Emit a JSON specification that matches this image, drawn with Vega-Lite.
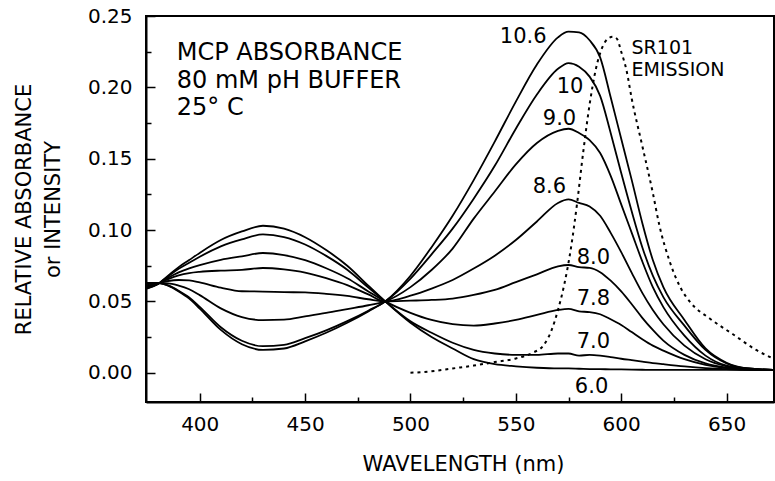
{
"$schema":"https://vega.github.io/schema/vega-lite/v6.json",
"width":628,"height":386,
"autosize":{"type":"none"},
"padding":{"left":146,"top":16,"right":1,"bottom":79},
"config":{"view":{"stroke":"black","strokeWidth":2},"font":"DejaVu Sans"},
"datasets":{
"abs":[
{"p":"6.0","w":375,"a":0.059},{"p":"6.0","w":380,"a":0.062},{"p":"6.0","w":385,"a":0.068},{"p":"6.0","w":390,"a":0.074},{"p":"6.0","w":395,"a":0.079},{"p":"6.0","w":400,"a":0.084},{"p":"6.0","w":410,"a":0.093},{"p":"6.0","w":420,"a":0.099},{"p":"6.0","w":430,"a":0.103},{"p":"6.0","w":440,"a":0.101},{"p":"6.0","w":450,"a":0.095},{"p":"6.0","w":460,"a":0.086},{"p":"6.0","w":470,"a":0.075},{"p":"6.0","w":480,"a":0.061},
{"p":"6.0","w":488,"a":0.050},{"p":"6.0","w":500,"a":0.035},{"p":"6.0","w":510,"a":0.025},{"p":"6.0","w":520,"a":0.017},{"p":"6.0","w":530,"a":0.0095},{"p":"6.0","w":540,"a":0.006},{"p":"6.0","w":550,"a":0.0045},{"p":"6.0","w":560,"a":0.0035},{"p":"6.0","w":570,"a":0.003},{"p":"6.0","w":575,"a":0.003},{"p":"6.0","w":580,"a":0.0028},{"p":"6.0","w":585,"a":0.0026},{"p":"6.0","w":590,"a":0.0025},{"p":"6.0","w":595,"a":0.0024},{"p":"6.0","w":600,"a":0.0023},{"p":"6.0","w":605,"a":0.0022},{"p":"6.0","w":610,"a":0.0021},{"p":"6.0","w":615,"a":0.002},{"p":"6.0","w":620,"a":0.002},{"p":"6.0","w":630,"a":0.002},{"p":"6.0","w":640,"a":0.002},{"p":"6.0","w":650,"a":0.002},{"p":"6.0","w":660,"a":0.002},{"p":"6.0","w":672,"a":0.002},
{"p":"7.0","w":375,"a":0.0593},{"p":"7.0","w":380,"a":0.0621},{"p":"7.0","w":385,"a":0.0675},{"p":"7.0","w":390,"a":0.0728},{"p":"7.0","w":395,"a":0.0771},{"p":"7.0","w":400,"a":0.0813},{"p":"7.0","w":410,"a":0.0886},{"p":"7.0","w":420,"a":0.0935},{"p":"7.0","w":430,"a":0.0969},{"p":"7.0","w":440,"a":0.0951},{"p":"7.0","w":450,"a":0.0899},{"p":"7.0","w":460,"a":0.0819},{"p":"7.0","w":470,"a":0.0722},{"p":"7.0","w":480,"a":0.0597},
{"p":"7.0","w":488,"a":0.050},{"p":"7.0","w":500,"a":0.036},{"p":"7.0","w":510,"a":0.028},{"p":"7.0","w":520,"a":0.021},{"p":"7.0","w":530,"a":0.016},{"p":"7.0","w":540,"a":0.0135},{"p":"7.0","w":550,"a":0.0125},{"p":"7.0","w":560,"a":0.0125},{"p":"7.0","w":570,"a":0.0135},{"p":"7.0","w":575,"a":0.0135},{"p":"7.0","w":580,"a":0.012},{"p":"7.0","w":585,"a":0.0125},{"p":"7.0","w":590,"a":0.012},{"p":"7.0","w":595,"a":0.011},{"p":"7.0","w":600,"a":0.0098},{"p":"7.0","w":605,"a":0.0088},{"p":"7.0","w":610,"a":0.0078},{"p":"7.0","w":615,"a":0.0068},{"p":"7.0","w":620,"a":0.006},{"p":"7.0","w":630,"a":0.0045},{"p":"7.0","w":640,"a":0.0033},{"p":"7.0","w":650,"a":0.0025},{"p":"7.0","w":660,"a":0.002},{"p":"7.0","w":672,"a":0.002},
{"p":"7.8","w":375,"a":0.0599},{"p":"7.8","w":380,"a":0.0622},{"p":"7.8","w":385,"a":0.0665},{"p":"7.8","w":390,"a":0.0703},{"p":"7.8","w":395,"a":0.0731},{"p":"7.8","w":400,"a":0.0754},{"p":"7.8","w":410,"a":0.0791},{"p":"7.8","w":420,"a":0.0816},{"p":"7.8","w":430,"a":0.0839},{"p":"7.8","w":440,"a":0.0825},{"p":"7.8","w":450,"a":0.0789},{"p":"7.8","w":460,"a":0.0732},{"p":"7.8","w":470,"a":0.0662},{"p":"7.8","w":480,"a":0.057},
{"p":"7.8","w":488,"a":0.050},{"p":"7.8","w":500,"a":0.042},{"p":"7.8","w":510,"a":0.037},{"p":"7.8","w":520,"a":0.034},{"p":"7.8","w":530,"a":0.033},{"p":"7.8","w":540,"a":0.0345},{"p":"7.8","w":550,"a":0.037},{"p":"7.8","w":560,"a":0.0405},{"p":"7.8","w":570,"a":0.044},{"p":"7.8","w":575,"a":0.0448},{"p":"7.8","w":580,"a":0.043},{"p":"7.8","w":585,"a":0.0425},{"p":"7.8","w":590,"a":0.041},{"p":"7.8","w":595,"a":0.0375},{"p":"7.8","w":600,"a":0.0335},{"p":"7.8","w":605,"a":0.0285},{"p":"7.8","w":610,"a":0.0235},{"p":"7.8","w":615,"a":0.019},{"p":"7.8","w":620,"a":0.0155},{"p":"7.8","w":630,"a":0.0095},{"p":"7.8","w":640,"a":0.0055},{"p":"7.8","w":650,"a":0.0032},{"p":"7.8","w":660,"a":0.0022},{"p":"7.8","w":672,"a":0.002},
{"p":"8.0","w":375,"a":0.0604},{"p":"8.0","w":380,"a":0.0623},{"p":"8.0","w":385,"a":0.0656},{"p":"8.0","w":390,"a":0.0682},{"p":"8.0","w":395,"a":0.0698},{"p":"8.0","w":400,"a":0.0707},{"p":"8.0","w":410,"a":0.0716},{"p":"8.0","w":420,"a":0.0721},{"p":"8.0","w":430,"a":0.0734},{"p":"8.0","w":440,"a":0.0724},{"p":"8.0","w":450,"a":0.0702},{"p":"8.0","w":460,"a":0.0663},{"p":"8.0","w":470,"a":0.0614},{"p":"8.0","w":480,"a":0.0549},
{"p":"8.0","w":488,"a":0.050},{"p":"8.0","w":500,"a":0.0505},{"p":"8.0","w":510,"a":0.051},{"p":"8.0","w":520,"a":0.052},{"p":"8.0","w":530,"a":0.0545},{"p":"8.0","w":540,"a":0.058},{"p":"8.0","w":550,"a":0.0635},{"p":"8.0","w":560,"a":0.069},{"p":"8.0","w":570,"a":0.0745},{"p":"8.0","w":575,"a":0.0755},{"p":"8.0","w":580,"a":0.074},{"p":"8.0","w":585,"a":0.0735},{"p":"8.0","w":590,"a":0.0705},{"p":"8.0","w":595,"a":0.0645},{"p":"8.0","w":600,"a":0.057},{"p":"8.0","w":605,"a":0.048},{"p":"8.0","w":610,"a":0.0385},{"p":"8.0","w":615,"a":0.030},{"p":"8.0","w":620,"a":0.0225},{"p":"8.0","w":630,"a":0.0125},{"p":"8.0","w":640,"a":0.0065},{"p":"8.0","w":650,"a":0.0035},{"p":"8.0","w":660,"a":0.0023},{"p":"8.0","w":672,"a":0.002},
{"p":"8.6","w":375,"a":0.0611},{"p":"8.6","w":380,"a":0.0625},{"p":"8.6","w":385,"a":0.0643},{"p":"8.6","w":390,"a":0.065},{"p":"8.6","w":395,"a":0.0647},{"p":"8.6","w":400,"a":0.0633},{"p":"8.6","w":410,"a":0.0596},{"p":"8.6","w":420,"a":0.0571},{"p":"8.6","w":430,"a":0.0569},{"p":"8.6","w":440,"a":0.0565},{"p":"8.6","w":450,"a":0.0563},{"p":"8.6","w":460,"a":0.0553},{"p":"8.6","w":470,"a":0.0538},{"p":"8.6","w":480,"a":0.0515},
{"p":"8.6","w":488,"a":0.050},{"p":"8.6","w":500,"a":0.054},{"p":"8.6","w":510,"a":0.059},{"p":"8.6","w":520,"a":0.065},{"p":"8.6","w":530,"a":0.073},{"p":"8.6","w":540,"a":0.082},{"p":"8.6","w":550,"a":0.093},{"p":"8.6","w":560,"a":0.106},{"p":"8.6","w":570,"a":0.119},{"p":"8.6","w":575,"a":0.1215},{"p":"8.6","w":580,"a":0.119},{"p":"8.6","w":585,"a":0.1165},{"p":"8.6","w":590,"a":0.110},{"p":"8.6","w":595,"a":0.098},{"p":"8.6","w":600,"a":0.0845},{"p":"8.6","w":605,"a":0.070},{"p":"8.6","w":610,"a":0.056},{"p":"8.6","w":615,"a":0.044},{"p":"8.6","w":620,"a":0.034},{"p":"8.6","w":630,"a":0.019},{"p":"8.6","w":640,"a":0.0095},{"p":"8.6","w":650,"a":0.0045},{"p":"8.6","w":660,"a":0.0025},{"p":"8.6","w":672,"a":0.002},
{"p":"9.0","w":375,"a":0.062},{"p":"9.0","w":380,"a":0.0628},{"p":"9.0","w":385,"a":0.0627},{"p":"9.0","w":390,"a":0.0611},{"p":"9.0","w":395,"a":0.0585},{"p":"9.0","w":400,"a":0.0544},{"p":"9.0","w":410,"a":0.0451},{"p":"9.0","w":420,"a":0.039},{"p":"9.0","w":430,"a":0.0369},{"p":"9.0","w":440,"a":0.0372},{"p":"9.0","w":450,"a":0.0395},{"p":"9.0","w":460,"a":0.0419},{"p":"9.0","w":470,"a":0.0446},{"p":"9.0","w":480,"a":0.0473},
{"p":"9.0","w":488,"a":0.050},{"p":"9.0","w":500,"a":0.060},{"p":"9.0","w":510,"a":0.072},{"p":"9.0","w":520,"a":0.087},{"p":"9.0","w":530,"a":0.108},{"p":"9.0","w":540,"a":0.127},{"p":"9.0","w":550,"a":0.146},{"p":"9.0","w":560,"a":0.161},{"p":"9.0","w":570,"a":0.1695},{"p":"9.0","w":575,"a":0.171},{"p":"9.0","w":580,"a":0.168},{"p":"9.0","w":585,"a":0.163},{"p":"9.0","w":590,"a":0.154},{"p":"9.0","w":595,"a":0.138},{"p":"9.0","w":600,"a":0.118},{"p":"9.0","w":605,"a":0.098},{"p":"9.0","w":610,"a":0.078},{"p":"9.0","w":615,"a":0.060},{"p":"9.0","w":620,"a":0.046},{"p":"9.0","w":630,"a":0.026},{"p":"9.0","w":640,"a":0.012},{"p":"9.0","w":650,"a":0.005},{"p":"9.0","w":660,"a":0.003},{"p":"9.0","w":672,"a":0.002},
{"p":"10","w":375,"a":0.0629},{"p":"10","w":380,"a":0.063},{"p":"10","w":385,"a":0.0612},{"p":"10","w":390,"a":0.0575},{"p":"10","w":395,"a":0.0528},{"p":"10","w":400,"a":0.0462},{"p":"10","w":410,"a":0.0319},{"p":"10","w":420,"a":0.0224},{"p":"10","w":430,"a":0.0186},{"p":"10","w":440,"a":0.0195},{"p":"10","w":450,"a":0.0242},{"p":"10","w":460,"a":0.0297},{"p":"10","w":470,"a":0.0362},{"p":"10","w":480,"a":0.0435},
{"p":"10","w":488,"a":0.050},{"p":"10","w":500,"a":0.066},{"p":"10","w":510,"a":0.083},{"p":"10","w":520,"a":0.101},{"p":"10","w":530,"a":0.122},{"p":"10","w":540,"a":0.145},{"p":"10","w":550,"a":0.171},{"p":"10","w":560,"a":0.195},{"p":"10","w":570,"a":0.213},{"p":"10","w":575,"a":0.217},{"p":"10","w":580,"a":0.2145},{"p":"10","w":585,"a":0.2075},{"p":"10","w":590,"a":0.194},{"p":"10","w":595,"a":0.168},{"p":"10","w":600,"a":0.140},{"p":"10","w":605,"a":0.113},{"p":"10","w":610,"a":0.088},{"p":"10","w":615,"a":0.068},{"p":"10","w":620,"a":0.053},{"p":"10","w":630,"a":0.033},{"p":"10","w":640,"a":0.016},{"p":"10","w":650,"a":0.0065},{"p":"10","w":660,"a":0.003},{"p":"10","w":672,"a":0.002},
{"p":"10.6","w":375,"a":0.063},{"p":"10.6","w":380,"a":0.063},{"p":"10.6","w":385,"a":0.061},{"p":"10.6","w":390,"a":0.057},{"p":"10.6","w":395,"a":0.052},{"p":"10.6","w":400,"a":0.045},{"p":"10.6","w":410,"a":0.030},{"p":"10.6","w":420,"a":0.020},{"p":"10.6","w":430,"a":0.016},{"p":"10.6","w":440,"a":0.017},{"p":"10.6","w":450,"a":0.022},{"p":"10.6","w":460,"a":0.028},{"p":"10.6","w":470,"a":0.035},{"p":"10.6","w":480,"a":0.043},
{"p":"10.6","w":488,"a":0.050},{"p":"10.6","w":500,"a":0.068},{"p":"10.6","w":510,"a":0.088},{"p":"10.6","w":520,"a":0.110},{"p":"10.6","w":530,"a":0.135},{"p":"10.6","w":540,"a":0.162},{"p":"10.6","w":550,"a":0.190},{"p":"10.6","w":560,"a":0.216},{"p":"10.6","w":570,"a":0.235},{"p":"10.6","w":575,"a":0.239},{"p":"10.6","w":580,"a":0.2385},{"p":"10.6","w":585,"a":0.233},{"p":"10.6","w":590,"a":0.221},{"p":"10.6","w":595,"a":0.193},{"p":"10.6","w":600,"a":0.164},{"p":"10.6","w":605,"a":0.135},{"p":"10.6","w":610,"a":0.105},{"p":"10.6","w":615,"a":0.079},{"p":"10.6","w":620,"a":0.060},{"p":"10.6","w":630,"a":0.037},{"p":"10.6","w":640,"a":0.017},{"p":"10.6","w":650,"a":0.007},{"p":"10.6","w":660,"a":0.003},{"p":"10.6","w":672,"a":0.002}
],
"emission":[
{"w":500,"a":0.0},{"w":510,"a":0.001},{"w":520,"a":0.003},{"w":530,"a":0.005},{"w":540,"a":0.0075},{"w":550,"a":0.010},{"w":558,"a":0.014},{"w":563,"a":0.019},{"w":567,"a":0.030},{"w":570,"a":0.044},{"w":573,"a":0.062},{"w":576,"a":0.086},{"w":579,"a":0.118},{"w":582,"a":0.155},{"w":585,"a":0.188},{"w":588,"a":0.213},{"w":591,"a":0.228},{"w":594,"a":0.2345},{"w":596,"a":0.2355},{"w":598,"a":0.234},{"w":600,"a":0.225},{"w":602.5,"a":0.212},{"w":605,"a":0.192},{"w":610,"a":0.159},{"w":615,"a":0.126},{"w":618,"a":0.104},{"w":623,"a":0.078},{"w":628,"a":0.060},{"w":633,"a":0.049},{"w":642,"a":0.038},{"w":653,"a":0.027},{"w":664,"a":0.016},{"w":672,"a":0.010}
],
"notes":[
{"w":389.1,"a":0.2192,"t":"MCP ABSORBANCE"},{"w":389.1,"a":0.1994,"t":"80 mM pH BUFFER"},{"w":389.1,"a":0.1806,"t":"25°  C"}
],
"curvelabels":[
{"w":542.4,"a":0.2311,"t":"10.6"},{"w":569.4,"a":0.1961,"t":"10"},{"w":562.8,"a":0.1736,"t":"9.0"},{"w":558,"a":0.126,"t":"8.6"},{"w":578.9,"a":0.0762,"t":"8.0"},{"w":578.9,"a":0.0475,"t":"7.8"},{"w":578.9,"a":0.0173,"t":"7.0"},{"w":578,"a":-0.0144,"t":"6.0"}
],
"sr":[
{"w":604.9,"a":0.2234,"t":"SR101"},{"w":604.9,"a":0.2078,"t":"EMISSION"}
]
},
"encoding":{
"x":{"field":"w","type":"quantitative","scale":{"domain":[374.5,672.5],"nice":false,"zero":false},
 "axis":{"values":[400,425,450,475,500,525,550,575,600,625,650],
  "tickSize":{"condition":{"test":"datum.value % 50 === 0","value":-9},"value":-5},
  "labelExpr":"datum.value % 50 === 0 ? datum.label : ''",
  "grid":false,"domainColor":"black","domainWidth":2,"tickColor":"black","tickWidth":1.5,
  "labelFont":"DejaVu Sans","labelFontSize":20,"labelColor":"black","labelPadding":37,"labelBaseline":"alphabetic","labelFlush":false,"labelOverlap":false,
  "title":"WAVELENGTH (nm)","titleFont":"DejaVu Sans","titleFontSize":21,"titleFontWeight":"normal","titleColor":"black","titleX":317,"titleY":68,"titleBaseline":"alphabetic","titleAlign":"center"}},
"y":{"field":"a","type":"quantitative","scale":{"domain":[-0.0205,0.25],"nice":false,"zero":false},
 "axis":{"values":[0,0.025,0.05,0.075,0.1,0.125,0.15,0.175,0.2,0.225,0.25],
  "tickSize":{"condition":{"test":"abs(round(datum.value*1000)) % 50 === 0","value":-9},"value":-5},
  "labelExpr":"abs(round(datum.value*1000)) % 50 === 0 ? datum.label : ''",
  "format":".2f","grid":false,"domainColor":"black","domainWidth":2,"tickColor":"black","tickWidth":1.5,
  "labelFont":"DejaVu Sans","labelFontSize":20,"labelColor":"black","labelPadding":23,"labelFlush":false,"labelOverlap":false,
  "title":["RELATIVE ABSORBANCE","or INTENSITY"],"titleFont":"DejaVu Sans","titleFontSize":21,"titleFontWeight":"normal","titleColor":"black","titleLineHeight":29,"titleAngle":-90,"titleX":-116,"titleY":193,"titleBaseline":"alphabetic","titleAlign":"center"}}
},
"layer":[
{"data":{"name":"abs"},"mark":{"type":"line","interpolate":"monotone","color":"black","strokeWidth":1.8},"encoding":{"detail":{"field":"p","type":"nominal"}}},
{"data":{"name":"emission"},"mark":{"type":"line","interpolate":"monotone","color":"black","strokeWidth":2,"strokeDash":[3,4]},"encoding":{}},
{"data":{"name":"notes"},"mark":{"type":"text","align":"left","baseline":"alphabetic","font":"DejaVu Sans","fontSize":24,"color":"black"},"encoding":{"text":{"field":"t","type":"nominal"}}},
{"data":{"name":"curvelabels"},"mark":{"type":"text","align":"left","baseline":"alphabetic","font":"DejaVu Sans","fontSize":21,"color":"black"},"encoding":{"text":{"field":"t","type":"nominal"}}},
{"data":{"name":"sr"},"mark":{"type":"text","align":"left","baseline":"alphabetic","font":"DejaVu Sans","fontSize":19,"color":"black"},"encoding":{"text":{"field":"t","type":"nominal"}}}
]
}
